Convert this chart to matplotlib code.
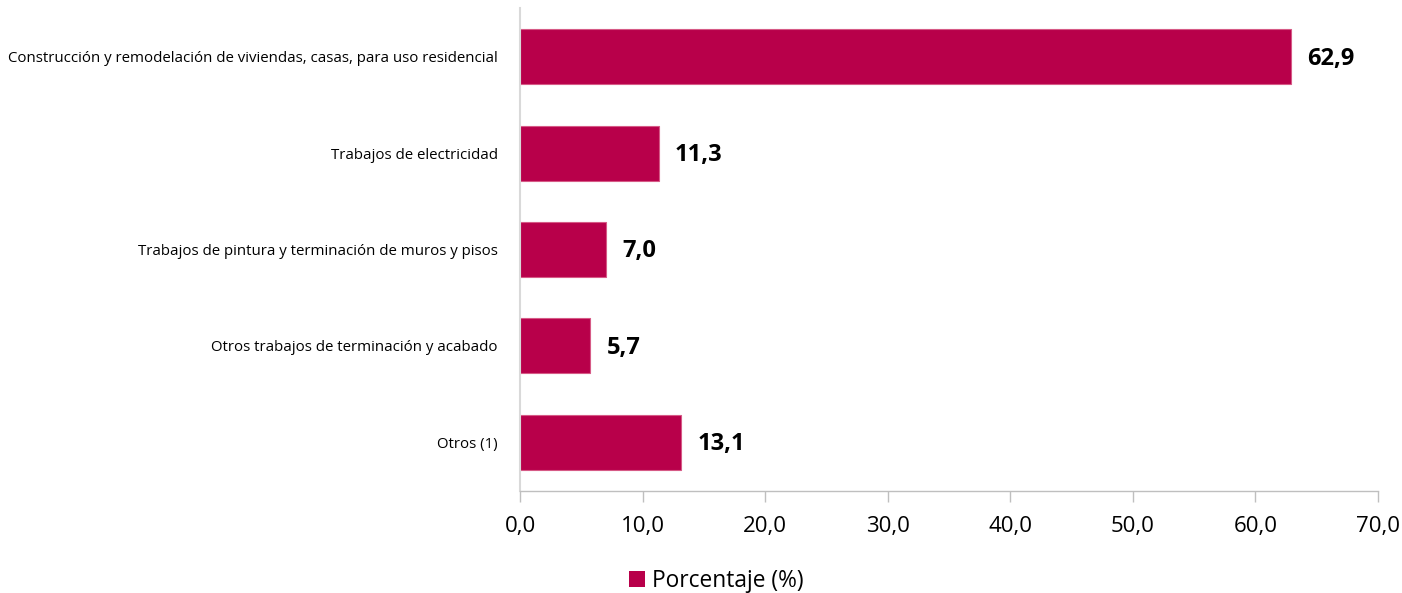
import matplotlib.pyplot as plt
from matplotlib.patches import Patch

categorias = [
    'Construcción y remodelación de viviendas, casas, para uso residencial',
    'Trabajos de electricidad',
    'Trabajos de pintura y terminación de muros y pisos',
    'Otros trabajos de terminación y acabado',
    'Otros (1)',
]
porcentajes = [62.9, 11.3, 7.0, 5.7, 13.1]
xticks = [0, 10, 20, 30, 40, 50, 60, 70]

color = '#B8004A'
plt.rcParams['font.family'] = ['Open Sans', 'DejaVu Sans']

fig = plt.figure(figsize=(14.02, 5.93), dpi=100)
ax = fig.add_axes([0.3709, 0.1728, 0.612, 0.8129])

y = list(range(len(categorias)))
ax.barh(y, porcentajes, height=0.57, color=color, edgecolor='#D65A86', linewidth=0.8)
for yi, v in zip(y, porcentajes):
    ax.text(v + 1.35, yi + 0.02, f'{v:.1f}'.replace('.', ','), va='center', ha='left',
            fontsize=17, fontweight='bold', color='black')

ax.set_ylim(4.5, -0.5)
ax.set_xlim(0, 70)
ax.set_yticks(y)
ax.set_yticklabels(categorias, fontsize=10.8)
ax.set_xticks(xticks)
ax.set_xticklabels([f'{t:.1f}'.replace('.', ',') for t in xticks], fontsize=16)
ax.tick_params(axis='y', length=0, pad=16)
ax.tick_params(axis='x', length=8, color='#BFBFBF', width=1, pad=10)

for s in ['top', 'right']:
    ax.spines[s].set_visible(False)
ax.spines['left'].set_color('#D9D9D9')
ax.spines['left'].set_linewidth(1.5)
ax.spines['bottom'].set_color('#BFBFBF')
ax.spines['bottom'].set_linewidth(1)

fig.legend(handles=[Patch(facecolor=color, label='Porcentaje (%)')],
           loc='lower center', bbox_to_anchor=(0.511, -0.035), frameon=False,
           fontsize=16.4, handlelength=0.7, handleheight=0.7, handletextpad=0.3)

fig.savefig('out.png', dpi=100)
